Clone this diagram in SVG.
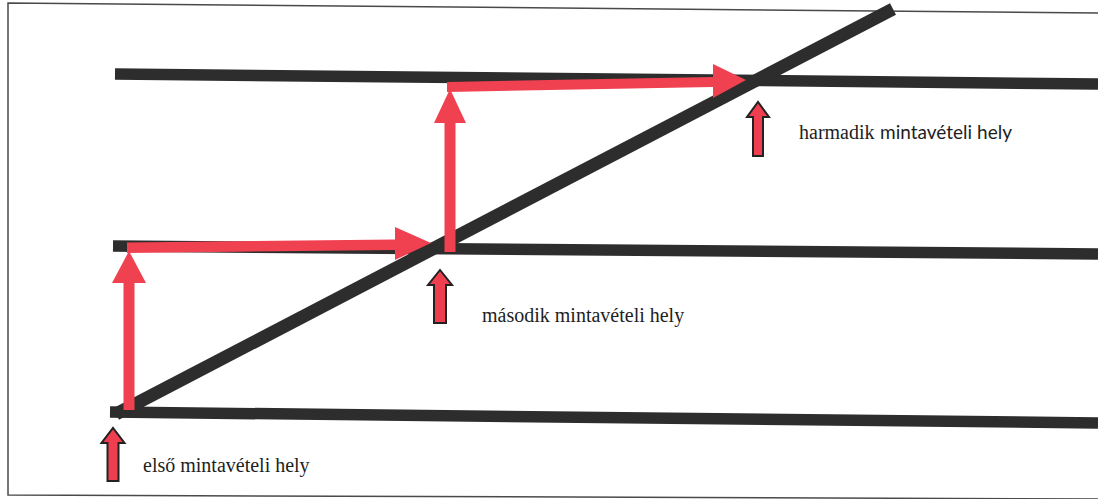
<svg xmlns="http://www.w3.org/2000/svg" width="1098" height="499" viewBox="0 0 1098 499">
  <style>
    .frame { fill: none; stroke: #4a4a4a; stroke-width: 1.5; }
    .bar { fill: none; stroke: #2d2d2d; stroke-width: 11.5; stroke-linecap: butt; }
    .diag { fill: none; stroke: #2d2d2d; stroke-width: 13; stroke-linecap: butt; }
    .red { fill: #ef4150; stroke: none; }
    .marker { fill: #ef3e4f; stroke: #222; stroke-width: 2; stroke-linejoin: miter; }
    .serif { font-family: "Liberation Serif", "Times New Roman", serif; font-size: 20px; fill: #1e1e1e; }
    .sans { font-family: Lato, "Liberation Sans", sans-serif; font-size: 20px; fill: #1e1e1e; }
  </style>
  <rect width="1098" height="499" fill="#ffffff"/>
  <polyline class="frame" points="1098,13 8,3 8,495 1098,499"/>

  <g id="connectors">
    <line class="bar" x1="115" y1="74" x2="1098" y2="84"/>
    <line class="bar" x1="113" y1="246" x2="1098" y2="254"/>
    <line class="bar" x1="110" y1="412" x2="1098" y2="423"/>
    <line class="diag" x1="116" y1="414" x2="893" y2="9"/>
    <polygon class="red" points="123.5,410 134.5,410 134.5,283 146,283 129,251 112,283 123.5,283"/>
    <polygon class="red" points="127,242.5 395,239.5 395,227 431,243 395,260 395,250 127,253"/>
    <polygon class="red" points="444.5,252 455.5,252 455.5,123 466,123 450,89 434,123 444.5,123"/>
    <polygon class="red" points="447,82 713,77 713,64 746,80 713,98 713,87 447,92"/>
  </g>

  <g id="node-elso">
    <polygon class="marker" points="107.5,481 118.5,481 118.5,443 124.5,443 113,428 101.5,443 107.5,443"/>
    <text class="serif" x="143" y="472">első mintavételi hely</text>
  </g>
  <g id="node-masodik">
    <polygon class="marker" points="434,323 446,323 446,285 452,285 440,270 428,285 434,285"/>
    <text class="serif" x="482" y="322">második mintavételi hely</text>
  </g>
  <g id="node-harmadik">
    <polygon class="marker" points="753,156 763,156 763,117 769,117 758,102 747,117 753,117"/>
    <text class="serif" x="799" y="139">harmadik</text>
    <text class="sans" x="880" y="139" textLength="132" lengthAdjust="spacingAndGlyphs">mintavételi hely</text>
  </g>
</svg>
